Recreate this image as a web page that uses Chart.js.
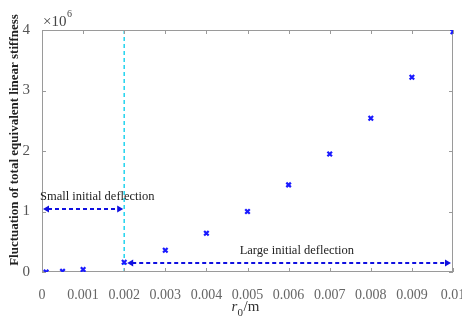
<!DOCTYPE html>
<html>
<head>
<meta charset="utf-8">
<script src="https://cdn.jsdelivr.net/npm/chart.js@4/dist/chart.umd.min.js"></script>
<style>
  html, body { margin: 0; padding: 0; background: #fff; }
  #wrap { width: 462px; height: 327px; }
</style>
</head>
<body>
<div id="wrap"><canvas id="c" width="462" height="327"></canvas></div>
<script>
// r0 (m) and stiffness fluctuation (N/m)
const radii = [0.0001, 0.0005, 0.001, 0.002, 0.003, 0.004, 0.005, 0.006, 0.007, 0.008, 0.009, 0.01];
const stiffness = [0.0e6, 0.01e6, 0.04e6, 0.16e6, 0.36e6, 0.64e6, 1.0e6, 1.44e6, 1.95e6, 2.54e6, 3.22e6, 3.97e6];
const xTicks = [0, 0.001, 0.002, 0.003, 0.004, 0.005, 0.006, 0.007, 0.008, 0.009, 0.01];
const yTicks = [0, 1e6, 2e6, 3e6, 4e6];
const boundary = 0.002;

const serif = '"Liberation Serif", "Times New Roman", serif';

function arrowHead(ctx, x, y, dir) {
  ctx.beginPath();
  ctx.moveTo(x, y);
  ctx.lineTo(x - dir * 6, y - 3.5);
  ctx.lineTo(x - dir * 6, y + 3.5);
  ctx.closePath();
  ctx.fill();
}

function dblArrow(ctx, x1, x2, y) {
  ctx.save();
  ctx.strokeStyle = '#1010e0';
  ctx.fillStyle = '#1010e0';
  ctx.lineWidth = 2;
  ctx.setLineDash([4, 3]);
  ctx.beginPath();
  ctx.moveTo(x1 + 5, y);
  ctx.lineTo(x2 - 5, y);
  ctx.stroke();
  ctx.setLineDash([]);
  arrowHead(ctx, x1, y, -1);
  arrowHead(ctx, x2, y, 1);
  ctx.restore();
}

const decor = {
  id: 'decor',
  beforeDatasetsDraw(chart) {
    const { ctx, chartArea: a, scales: { x, y } } = chart;
    ctx.save();
    // boundary line
    const bx = x.getPixelForValue(boundary);
    ctx.strokeStyle = '#22d3ee';
    ctx.lineWidth = 1.5;
    ctx.setLineDash([4, 3]);
    ctx.beginPath();
    ctx.moveTo(bx, a.top);
    ctx.lineTo(bx, a.bottom);
    ctx.stroke();
    ctx.setLineDash([]);

    // box + inward ticks
    ctx.strokeStyle = '#9a9a9a';
    ctx.lineWidth = 1;
    ctx.strokeRect(a.left + 0.5, a.top + 0.5, a.right - a.left - 1, a.bottom - a.top - 1);
    ctx.beginPath();
    xTicks.forEach(v => {
      const px = Math.round(x.getPixelForValue(v)) + 0.5;
      ctx.moveTo(px, a.bottom); ctx.lineTo(px, a.bottom - 4);
      ctx.moveTo(px, a.top); ctx.lineTo(px, a.top + 4);
    });
    yTicks.forEach(v => {
      const py = Math.round(y.getPixelForValue(v)) + 0.5;
      ctx.moveTo(a.left, py); ctx.lineTo(a.left + 4, py);
      ctx.moveTo(a.right, py); ctx.lineTo(a.right - 4, py);
    });
    ctx.stroke();
    ctx.restore();
  },
  afterDraw(chart) {
    const { ctx, chartArea: a, scales: { x, y } } = chart;
    ctx.save();
    // annotations
    const bx = x.getPixelForValue(boundary);
    dblArrow(ctx, a.left + 1, bx - 1, y.getPixelForValue(1.04e6));
    dblArrow(ctx, bx + 3, a.right - 2, y.getPixelForValue(0.15e6));
    ctx.fillStyle = '#222';
    ctx.font = '12.5px ' + serif;
    ctx.textBaseline = 'middle';
    ctx.textAlign = 'left';
    ctx.fillText('Small initial deflection', a.left - 2, y.getPixelForValue(1.25e6));
    ctx.textAlign = 'center';
    ctx.fillText('Large initial deflection', x.getPixelForValue(0.0062), y.getPixelForValue(0.36e6));

    // exponent
    ctx.fillStyle = '#444';
    ctx.textAlign = 'left';
    ctx.textBaseline = 'alphabetic';
    ctx.font = '15px ' + serif;
    ctx.fillText('\u00d710', a.left + 1, a.top - 4);
    ctx.font = '10px ' + serif;
    ctx.fillText('6', a.left + 25, a.top - 13);

    // y title
    ctx.save();
    ctx.translate(15, (a.top + a.bottom) / 2 - 11);
    ctx.rotate(-Math.PI / 2);
    ctx.fillStyle = '#222';
    ctx.font = 'bold 13px ' + serif;
    ctx.textAlign = 'center';
    ctx.textBaseline = 'middle';
    ctx.fillText('Fluctuation of total equivalent linear stiffness', 0, 0);
    ctx.restore();

    // x title: r0/m
    const cx = (a.left + a.right) / 2 - 6;
    const ty = 311;
    ctx.fillStyle = '#333';
    ctx.textBaseline = 'alphabetic';
    ctx.textAlign = 'left';
    ctx.font = 'italic 15px ' + serif;
    ctx.fillText('r', cx - 10, ty);
    ctx.font = '11px ' + serif;
    ctx.fillText('0', cx - 4, ty + 5);
    ctx.font = '15px ' + serif;
    ctx.fillText('/m', cx + 2, ty);
    ctx.restore();
  }
};

new Chart(document.getElementById('c'), {
  type: 'scatter',
  data: {
    datasets: [{
      data: radii.map((r, i) => ({ x: r, y: stiffness[i] })),
      pointStyle: 'crossRot',
      pointRadius: 3.2,
      pointBorderWidth: 2.2,
      borderColor: '#1a1aff',
      backgroundColor: '#1a1aff'
    }]
  },
  plugins: [decor],
  options: {
    responsive: false,
    animation: false,
    layout: { padding: { top: 30, right: 9, left: 0, bottom: 0 } },
    plugins: { legend: { display: false }, tooltip: { enabled: false } },
    scales: {
      x: {
        type: 'linear',
        min: 0,
        max: 0.01,
        afterBuildTicks: s => { s.ticks = xTicks.map(v => ({ value: v })); },
        afterFit: s => { s.height = 55; s.paddingLeft = 0; s.paddingRight = 0; },
        grid: { display: false },
        border: { display: false },
        ticks: {
          color: '#666',
          padding: 7,
          maxRotation: 0,
          autoSkip: false,
          font: { family: serif, size: 14 },
          callback: v => (v === 0 ? '0' : String(+v.toFixed(3)))
        }
      },
      y: {
        type: 'linear',
        min: 0,
        max: 4e6,
        afterBuildTicks: s => { s.ticks = yTicks.map(v => ({ value: v })); },
        afterFit: s => { s.width = 42; s.paddingTop = 0; s.paddingBottom = 0; },
        grid: { display: false },
        border: { display: false },
        ticks: {
          color: '#555',
          padding: 4,
          font: { family: serif, size: 15 },
          callback: v => String(v / 1e6)
        }
      }
    }
  }
});
</script>
</body>
</html>
